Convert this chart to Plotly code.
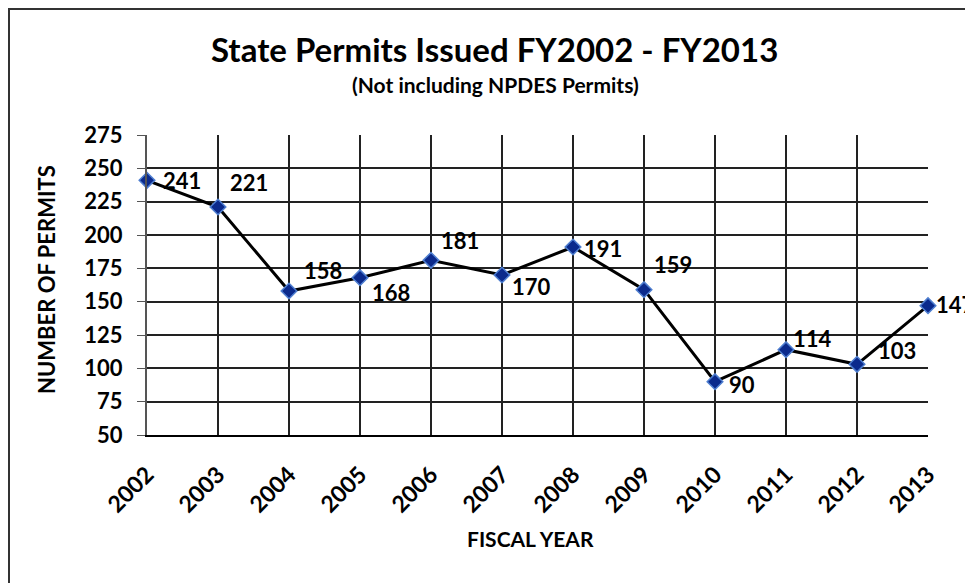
import plotly.graph_objects as go

years = ["2002", "2003", "2004", "2005", "2006", "2007", "2008", "2009", "2010", "2011", "2012", "2013"]
permits = [241, 221, 158, 168, 181, 170, 191, 159, 90, 114, 103, 147]
y_ticks = [50, 75, 100, 125, 150, 175, 200, 225, 250, 275]

# label offsets (style only), in pixels
label_dx = [35, 31, 34, 31, 29, 29, 30, 29, 27, 26, 40, 27]
label_dy = [0, 25, 21, -15, 20, -11, -1, 25, -3, 11, 14, 1]

FONT = "Lato"
OFF = 8  # page body margin
W, H = 973 - OFF, 583 - OFF
L, R, T, B = 147 - OFF, 45, 135 - OFF, 148

fig = go.Figure()
fig.add_trace(go.Scatter(
    x=list(range(len(years))), y=permits, mode="lines+markers",
    line=dict(color="black", width=3),
    marker=dict(symbol="diamond", size=12, color="#0b2a8c",
                line=dict(color="#4f7fd0", width=1.5)),
    hoverinfo="skip", showlegend=False, cliponaxis=False,
))

for i, (yr, v) in enumerate(zip(years, permits)):
    fig.add_annotation(x=i, y=v, xref="x", yref="y", text=str(v), showarrow=False,
                       xshift=label_dx[i], yshift=label_dy[i],
                       xanchor="center", yanchor="middle",
                       font=dict(family=FONT, size=22, color="black", weight="bold"))

pw = W - L - R
ph = H - T - B
def px(xs):
    return (xs - OFF - L) / pw
def py(ys):
    return (H - B - (ys - OFF)) / ph

fig.add_shape(type="rect", xref="paper", yref="paper",
              x0=px(9), x1=px(1000), y0=py(9), y1=py(620),
              line=dict(color="#333333", width=2), fillcolor="rgba(0,0,0,0)", layer="below")

def label(x, y, text, size, angle=0):
    fig.add_annotation(xref="paper", yref="paper", x=px(x), y=py(y), text=text, textangle=angle,
                       xanchor="center", yanchor="middle", showarrow=False,
                       font=dict(family=FONT, size=size, color="black", weight="bold"))

label(494, 49, "State Permits Issued FY2002 - FY2013", 33)
label(495, 84, "(Not including NPDES Permits)", 21)
label(46, 280, "NUMBER OF PERMITS", 22, -90)
label(530, 538, "FISCAL YEAR", 21)

fig.update_layout(
    width=W, height=H,
    margin=dict(l=L, r=R, t=T, b=B),
    paper_bgcolor="white", plot_bgcolor="white",
    xaxis=dict(
        tickmode="array", tickvals=list(range(len(years))), ticktext=years,
        range=[0, len(years) - 1], tickangle=-45,
        showgrid=True, gridcolor="#222222", gridwidth=1.5,
        showline=True, linecolor="black", linewidth=2, mirror=False,
        ticks="", zeroline=False, ticklabelstandoff=15,
        tickfont=dict(family=FONT, size=23, color="black", weight="bold"),
    ),
    yaxis=dict(
        tickmode="array", tickvals=y_ticks, range=[50, 275],
        showgrid=True, gridcolor="#222222", gridwidth=1.5,
        showline=True, linecolor="#555555", linewidth=2,
        ticks="outside", ticklen=8, tickcolor="#555555", zeroline=False,
        ticklabelstandoff=10,
        tickfont=dict(family=FONT, size=22, color="black", weight="bold"),
    ),
)

fig.write_html("out.html")
